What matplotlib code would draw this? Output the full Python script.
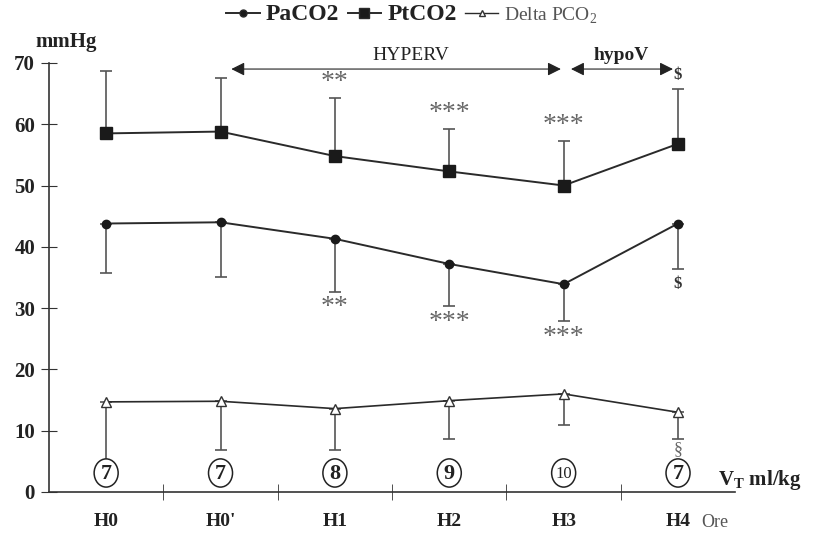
import matplotlib
matplotlib.use("Agg")
import matplotlib.pyplot as plt
from matplotlib.lines import Line2D
from matplotlib.patches import Ellipse

plt.rcParams['font.family'] = ['Liberation Serif', 'DejaVu Serif']

times = ["H0", "H0'", "H1", "H2", "H3", "H4"]
vt = ["7", "7", "8", "9", "10", "7"]
pt_mean = [58.5, 58.8, 54.8, 52.3, 50.0, 56.8]
pt_sd = [10.2, 8.7, 9.4, 6.9, 7.3, 9.0]
pa_mean = [43.8, 44.0, 41.3, 37.2, 33.9, 43.8]
pa_sd = [8.1, 9.0, 8.6, 6.9, 6.0, 7.5]
d_mean = [14.7, 14.8, 13.6, 14.9, 16.0, 13.0]
d_sd = [9.9, 8.0, 6.7, 6.2, 5.0, 4.3]
pt_sig = ["", "", "**", "***", "***", "$"]
pa_sig = ["", "", "**", "***", "***", "$"]
d_sig = ["", "", "", "", "", "§"]

fig = plt.figure(figsize=(8.16, 5.35), dpi=100)
ax = fig.add_axes([0.06, 0.0804, 0.841, 0.802])
x = list(range(len(times)))

lc = '#2a2a2a'
ec = '#555555'
ax.errorbar(x, pt_mean, yerr=[[0]*6, pt_sd], fmt='none', ecolor=ec, elinewidth=1.2, capsize=4, capthick=1.2)
ax.errorbar(x, pa_mean, yerr=[pa_sd, [0]*6], fmt='none', ecolor=ec, elinewidth=1.2, capsize=4, capthick=1.2)
ax.errorbar(x, d_mean, yerr=[d_sd, [0]*6], fmt='none', ecolor=ec, elinewidth=1.2, capsize=4, capthick=1.2)
ax.plot(x, pt_mean, color=lc, lw=1.4, marker='s', ms=8, mfc='#1a1a1a', mec='#1a1a1a', zorder=3)
ax.plot(x, pa_mean, color=lc, lw=1.4, marker='o', ms=6, mfc='#1a1a1a', mec='#1a1a1a', zorder=3)
ax.plot(x, d_mean, color=lc, lw=1.2, marker='^', ms=7, mfc='white', mec='#333333', zorder=3)

sigc = '#666666'
for i in x:
    if pt_sig[i]:
        if pt_sig[i] == '$':
            ax.text(i, pt_mean[i] + pt_sd[i] + 0.9, '$', ha='center', va='bottom', fontsize=12, fontweight='bold', color='#333333')
        else:
            ax.text(i, pt_mean[i] + pt_sd[i] + 0.5, pt_sig[i], ha='center', va='bottom', fontsize=20, color=sigc)
    if pa_sig[i]:
        if pa_sig[i] == '$':
            ax.text(i, pa_mean[i] - pa_sd[i] - 1.0, '$', ha='center', va='top', fontsize=12, fontweight='bold', color='#333333')
        else:
            ax.text(i, pa_mean[i] - pa_sd[i] - 0.6, pa_sig[i], ha='center', va='top', fontsize=20, color=sigc)
    if d_sig[i]:
        ax.text(i, d_mean[i] - d_sd[i] - 0.4, d_sig[i], ha='center', va='top', fontsize=13, color=sigc)

for i in x:
    ax.add_patch(Ellipse((i, 3.1), 0.21, 4.6, fc='white', ec='#222222', lw=1.1, zorder=4))
    ax.text(i, 3.0, vt[i], ha='center', va='center', fontsize=16 if len(vt[i]) == 1 else 12,
            fontweight='bold' if len(vt[i]) == 1 else 'normal', zorder=5, color='#222222')

ax.text(5.35, 2.0, 'V$_\\mathregular{T}$ ml/kg', ha='left', va='center', fontsize=15, fontweight='bold', color='#222222')
ax.text(5.2, -5.0, 'Ore', ha='left', va='center', fontsize=13, color='#555555')

ax.annotate('', xy=(1.07, 69.0), xytext=(4.0, 69.0),
            arrowprops=dict(arrowstyle='<|-|>', color='#222222', lw=0.8, mutation_scale=20), annotation_clip=False)
ax.annotate('', xy=(4.04, 69.0), xytext=(4.98, 69.0),
            arrowprops=dict(arrowstyle='<|-|>', color='#222222', lw=0.8, mutation_scale=20), annotation_clip=False)
ax.text(2.66, 69.9, 'HYPERV', ha='center', va='bottom', fontsize=14, color='#222222')
ax.text(4.5, 69.9, 'hypoV', ha='center', va='bottom', fontsize=14, fontweight='bold', color='#222222')
ax.text(-0.35, 71.7, 'mmHg', ha='center', va='bottom', fontsize=15, fontweight='bold', color='#222222')

ax.set_xlim(-0.5, 5.5)
ax.set_ylim(0, 70)
ax.set_yticks(range(0, 71, 10))
ax.set_yticklabels([str(v) for v in range(0, 71, 10)], fontsize=15, fontweight='bold', color='#222222')
ax.set_xticks(x)
ax.set_xticklabels(times, fontsize=14, fontweight='bold', color='#222222')
ax.set_xticks([i + 0.5 for i in x[:-1]], minor=True)
ax.tick_params(axis='x', which='major', length=0, pad=15)
ax.tick_params(axis='x', which='minor', length=12, direction='inout', color='#333333')
ax.tick_params(axis='y', length=12, direction='inout', color='#333333', pad=4)
for s in ['top', 'right']:
    ax.spines[s].set_visible(False)
for s in ['left', 'bottom']:
    ax.spines[s].set_color('#333333')
    ax.spines[s].set_linewidth(1.2)

handles = [
    Line2D([], [], color=lc, marker='o', ms=5, mfc='#1a1a1a', lw=1.4),
    Line2D([], [], color=lc, marker='s', ms=7, mfc='#1a1a1a', lw=1.4),
    Line2D([], [], color=lc, marker='^', ms=5, mfc='white', mec='#333333', lw=1.0),
]
leg = fig.legend(handles, ['PaCO2', 'PtCO2', 'Delta PCO$_\\mathregular{2}$'], loc='center',
                 bbox_to_anchor=(0.505, 0.972), ncol=3, frameon=False, handlelength=1.6,
                 handletextpad=0.3, columnspacing=0.4, fontsize=15)
for t, w, c, fs in zip(leg.get_texts(), ['bold', 'bold', 'normal'], ['#222222', '#222222', '#555555'], [17, 17, 14]):
    t.set_fontweight(w)
    t.set_color(c)
    t.set_fontsize(fs)

fig.savefig('out.png', dpi=100)
